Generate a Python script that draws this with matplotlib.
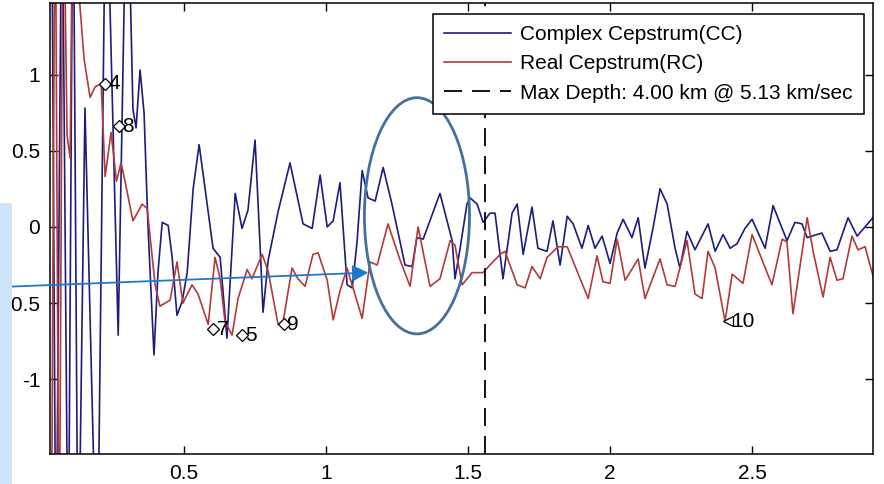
import matplotlib
matplotlib.use('Agg')
import matplotlib.pyplot as plt
from matplotlib.patches import Ellipse, Rectangle

plt.rcParams['font.family'] = ['Liberation Sans', 'DejaVu Sans']

# Complex cepstrum (CC) vertices
cc_x = [0.032, 0.049, 0.070, 0.092, 0.109, 0.127, 0.151, 0.194, 0.225, 0.268,
        0.299, 0.320, 0.331, 0.345, 0.359, 0.373, 0.394, 0.408, 0.423, 0.444,
        0.458, 0.475, 0.493, 0.511, 0.532, 0.553, 0.574, 0.602, 0.627, 0.651,
        0.680, 0.704, 0.725, 0.750, 0.768, 0.778, 0.796, 0.831, 0.873, 0.919,
        0.951, 0.979, 1.004, 1.025, 1.049, 1.074, 1.092, 1.109, 1.127, 1.148,
        1.173, 1.201, 1.232, 1.278, 1.303, 1.320, 1.342, 1.401, 1.444, 1.454,
        1.472, 1.496, 1.507, 1.532, 1.553, 1.577, 1.595, 1.623, 1.655, 1.673,
        1.694, 1.725, 1.746, 1.778, 1.799, 1.824, 1.849, 1.870, 1.901, 1.923,
        1.947, 1.972, 2.000, 2.025, 2.046, 2.077, 2.099, 2.123, 2.151, 2.176,
        2.201, 2.229, 2.246, 2.271, 2.299, 2.345, 2.370, 2.398, 2.423, 2.447,
        2.475, 2.500, 2.546, 2.574, 2.623, 2.651, 2.676, 2.694, 2.746, 2.775,
        2.799, 2.838, 2.870, 2.930]
cc_y = [2.8, -2.5, 2.5, -2.5, 2.5, -2.5, 0.78, -2.5, 2.5, -0.71,
        2.5, 0.77, 0.65, 1.03, 0.75, 0.0, -0.84, -0.3, 0.03, 0.01,
        -0.2, -0.58, -0.49, -0.3, 0.25, 0.54, 0.25, -0.14, -0.2, -0.73,
        0.22, -0.01, 0.11, 0.57, -0.14, -0.56, -0.22, 0.1, 0.42, 0.02,
        -0.01, 0.34, 0.0, 0.04, 0.29, -0.38, -0.4, -0.1, 0.37, 0.19,
        0.17, 0.39, 0.15, -0.25, -0.26, -0.07, -0.08, 0.22, -0.09, -0.34,
        -0.14, 0.15, 0.19, 0.15, 0.03, 0.09, 0.09, -0.34, 0.09, 0.15,
        -0.18, 0.13, -0.14, -0.16, 0.04, -0.25, 0.07, 0.02, -0.14, 0.01,
        -0.14, -0.06, -0.24, -0.04, 0.05, -0.07, 0.06, -0.27, -0.01, 0.25,
        0.15, -0.14, -0.27, -0.03, -0.15, 0.02, -0.16, -0.05, -0.14, -0.11,
        -0.01, 0.05, -0.14, 0.14, -0.09, 0.03, 0.02, -0.07, -0.04, -0.16,
        -0.15, 0.06, -0.06, 0.07]

# Real cepstrum (RC) vertices
rc_x = [0.032, 0.046, 0.060, 0.074, 0.088, 0.099, 0.109, 0.127, 0.148, 0.169,
        0.187, 0.208, 0.222, 0.243, 0.262, 0.278, 0.292, 0.320, 0.338, 0.352,
        0.370, 0.398, 0.415, 0.451, 0.475, 0.496, 0.528, 0.549, 0.585, 0.609,
        0.627, 0.644, 0.669, 0.690, 0.722, 0.739, 0.775, 0.796, 0.831, 0.849,
        0.880, 0.901, 0.926, 0.954, 0.972, 1.004, 1.025, 1.049, 1.074, 1.095,
        1.127, 1.155, 1.180, 1.218, 1.261, 1.296, 1.324, 1.366, 1.401, 1.437,
        1.454, 1.479, 1.514, 1.553, 1.577, 1.613, 1.630, 1.673, 1.701, 1.725,
        1.754, 1.778, 1.817, 1.849, 1.923, 1.954, 1.975, 2.000, 2.025, 2.053,
        2.099, 2.123, 2.176, 2.201, 2.229, 2.271, 2.299, 2.324, 2.345, 2.370,
        2.405, 2.430, 2.468, 2.500, 2.570, 2.606, 2.623, 2.644, 2.694, 2.715,
        2.750, 2.775, 2.799, 2.820, 2.852, 2.873, 2.898, 2.930]
rc_y = [-2.5, 2.5, -2.5, 2.5, 0.6, 0.45, 2.5, 1.6, 1.1, 0.85,
        0.92, 0.94, 0.33, 0.62, 0.3, 0.42, 0.3, 0.04, 0.1, 0.15,
        0.12, -0.38, -0.52, -0.48, -0.23, -0.5, -0.38, -0.44, -0.64, -0.2,
        -0.34, -0.62, -0.71, -0.47, -0.28, -0.34, -0.18, -0.29, -0.64, -0.62,
        -0.27, -0.34, -0.39, -0.18, -0.17, -0.35, -0.61, -0.42, -0.27, -0.4,
        -0.6, -0.23, -0.25, 0.02, -0.22, -0.39, 0.0, -0.39, -0.34, -0.09,
        -0.12, -0.38, -0.3, -0.3, -0.25, -0.18, -0.16, -0.38, -0.4, -0.26,
        -0.34, -0.2, -0.13, -0.13, -0.47, -0.19, -0.36, -0.37, -0.08, -0.35,
        -0.21, -0.47, -0.21, -0.38, -0.39, -0.09, -0.44, -0.47, -0.16, -0.27,
        -0.62, -0.31, -0.37, -0.05, -0.38, -0.08, -0.1, -0.57, 0.06, -0.16,
        -0.46, -0.2, -0.35, -0.34, -0.06, -0.15, -0.13, -0.35]

# Marked peaks
peak_x = [0.222, 0.271, 0.602, 0.704, 0.852]
peak_y = [0.94, 0.66, -0.67, -0.71, -0.64]
peak_labels = ['4', '8', '7', '5', '9']
peak10_x = [2.415]
peak10_y = [-0.62]
peak10_label = '10'

max_depth_t = 1.559
x_ticks = [0.5, 1, 1.5, 2, 2.5]
x_ticklabels = ['0.5', '1', '1.5', '2', '2.5']
y_ticks = [-1, -0.5, 0, 0.5, 1]
y_ticklabels = ['-1', '-0.5', '0', '0.5', '1']
legend_labels = ['Complex Cepstrum(CC)', 'Real Cepstrum(RC)',
                 'Max Depth: 4.00 km @ 5.13 km/sec']

CC_COLOR = '#1c1c7c'
RC_COLOR = '#b23a3a'
FS = 15

fig = plt.figure(figsize=(8.84, 4.84), dpi=100)
ax = fig.add_axes([0.0566, 0.062, 0.931, 0.932])

ax.plot(cc_x, cc_y, color=CC_COLOR, lw=1.2, label=legend_labels[0])
ax.plot(rc_x, rc_y, color=RC_COLOR, lw=1.2, label=legend_labels[1])
ax.axvline(max_depth_t, color='black', lw=1.3, ls=(0, (10, 5.5)), label=legend_labels[2])

ax.plot(peak_x, peak_y, ls='none', marker='D', ms=6, mfc='white', mec='black', mew=0.9)
for px, py, lab in zip(peak_x, peak_y, peak_labels):
    ax.text(px + 0.012, py, lab, fontsize=FS, va='center', ha='left')
ax.plot(peak10_x, peak10_y, ls='none', marker='<', ms=7, mfc='white', mec='black', mew=0.9)
ax.text(peak10_x[0] + 0.012, peak10_y[0], peak10_label, fontsize=FS, va='center', ha='left')

ax.set_xlim(0.028, 2.926)
ax.set_ylim(-1.49, 1.47)
ax.set_xticks(x_ticks)
ax.set_xticklabels(x_ticklabels)
ax.set_yticks(y_ticks)
ax.set_yticklabels(y_ticklabels)
ax.tick_params(direction='in', length=6, width=1, top=True, right=True,
               labelsize=FS, pad=7)
for s in ax.spines.values():
    s.set_linewidth(1.1)

leg = ax.legend(loc='upper right', bbox_to_anchor=(0.989, 0.976), borderaxespad=0,
                fontsize=FS, handlelength=3.2, handletextpad=0.45, labelspacing=0.49,
                borderpad=0.55, fancybox=False, framealpha=1, edgecolor='black')
leg.get_frame().set_linewidth(1.1)

# Annotation ellipse and arrow
ax.add_patch(Ellipse((1.320, 0.073), 0.370, 1.55, fill=False, ec='#41719c', lw=2, zorder=5))
ax.annotate('', xy=(1.148, -0.30), xycoords='data',
            xytext=(0.0, 0.407), textcoords='figure fraction',
            arrowprops=dict(arrowstyle='-|>,head_length=0.95,head_width=0.5',
                            color='#1f78c8', lw=1.3, shrinkA=0, shrinkB=0),
            annotation_clip=False, zorder=6)

# Light blue side panel
fig.add_artist(Rectangle((0, 0), 12 / 884, 0.58, transform=fig.transFigure,
                         facecolor='#cfe4f8', edgecolor='none', zorder=10))

fig.savefig('out.png', dpi=100)
